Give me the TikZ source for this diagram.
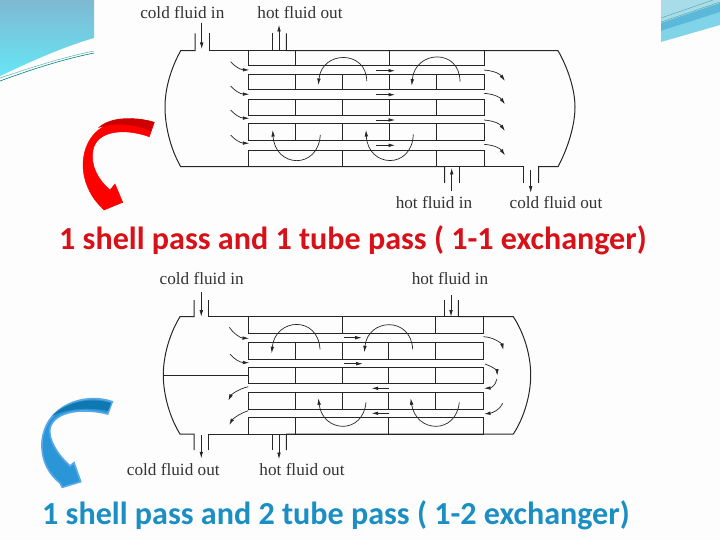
\documentclass[tikz,border=0pt]{standalone}
\usepackage{fontspec}
\setmainfont{Liberation Serif}
\newfontfamily\titlefont{Carlito}
\usetikzlibrary{arrows.meta}
\definecolor{titlered}{HTML}{D81018}
\definecolor{titleblue}{HTML}{1B8FC4}
\definecolor{pagewhite}{HTML}{FDFDFD}
\definecolor{bannertop}{HTML}{7FB8D2}
\definecolor{bannerbot}{HTML}{66E6F5}
\definecolor{cornerlight}{HTML}{A8DCE8}
\definecolor{cornermid}{HTML}{80D4E8}
\definecolor{cornerband}{HTML}{5CB8D8}
\definecolor{bluebody}{HTML}{2A96D8}
\definecolor{blueedge}{HTML}{5AA8E8}
\definecolor{bluedark}{HTML}{0F78B0}

\begin{document}
\begin{tikzpicture}[
                x=1pt, y=-1pt,
                wall/.style={draw=black!85, line width=1pt},
                arrow/.style={-{Latex[length=6.5pt,width=3.6pt]}, draw=black!85, line width=0.7pt},
                flowlabel/.style={font=\fontsize{17.2}{19}\selectfont, text=black!80, inner sep=0pt},
                titlelabel/.style={font=\titlefont\bfseries\fontsize{32.1}{34}\selectfont, inner sep=0pt, anchor=base west}
            ]
                \useasboundingbox (0,0) rectangle (720,540);
                \fill[pagewhite] (0,0) rectangle (720,540);

                % corners of the slide
                \shade[top color=bannertop, bottom color=bannerbot]
                    (0,0) -- (94,0) -- (94,38) .. controls (60,48) and (30,62) .. (0,76) -- cycle;
                \draw[teal, line width=0.6pt] (0,81) .. controls (30,70) and (60,60) .. (94,53);
                \draw[teal!60, line width=0.5pt] (0,78) .. controls (30,68) and (60,58) .. (94,51);
                \fill[cornerlight] (661,0) rectangle (720,23);
                \fill[cornermid] (661,42) -- (661,31) -- (720,12) -- (720,25) -- cycle;
                \fill[cornerband] (661,23) -- (720,3) -- (720,12) -- (661,31) -- cycle;
                \draw[teal!70, line width=0.4pt] (661,18) -- (713,0);
                \draw[teal!70, line width=0.4pt] (661,22) -- (720,2);

                % big arrows
                \path[fill=red, draw=red, line width=0.5pt] (154.3,122.3) .. controls (125,113) and (84,122) .. (83,165)
                    .. controls (83,180) and (90,195) .. (98.3,204) -- (104,210) -- (122.7,202.3) -- (115,184) -- (110,190)
                    .. controls (98,180) and (90,165) .. (93,150) .. controls (97,130) and (125,128) .. (149.3,136.7) -- cycle;
                \fill[red!80!black] (154.3,122.3) .. controls (130,115) and (108,118) .. (98,128)
                    .. controls (115,122) and (135,124) .. (151,131) -- cycle;
                \path[fill=bluebody, draw=blueedge, line width=1.6pt] (112.3,401.7) .. controls (85,392) and (45,405) .. (42,442)
                    .. controls (41,462) and (50,475) .. (60,483) -- (62.3,487.3) -- (80.7,481.7) -- (74,462.7) -- (70,466)
                    .. controls (58,455) and (48,440) .. (50,428) .. controls (55,410) and (85,408) .. (107.7,414) -- cycle;
                \fill[bluedark] (111,403) .. controls (90,397) and (65,402) .. (52,416)
                    .. controls (68,408) and (90,407) .. (108,411) -- cycle;

                % 1-1 exchanger
                \draw[wall] (195,33.3) |- (180.7,50.7) .. controls (170,70) and (165,90) .. (165,107)
                    .. controls (165,125) and (170,148) .. (180.7,166.7) -- (444.7,166.7) -- (444.7,183);
                \draw[wall] (209,33.3) |- (272.7,50.7) -- (272.7,33.3);
                \draw[wall] (286.3,33.3) |- (558,50.7) .. controls (568,68) and (575,90) .. (575,107)
                    .. controls (575,125) and (568,148) .. (558,166.7) -- (538.7,166.7) -- (538.7,183);
                \draw[wall] (459.7,183) |- (523.3,166.7) -- (523.3,183);
                \foreach \ya/\yb in {50.7/66, 74.3/90, 100/116, 124/140.7, 150.7/166.7}
                    \draw[wall] (248.7,\ya) rectangle (484,\yb);
                \foreach \xa/\ya/\yb in {295.7/50.7/66, 389.3/50.7/66,
                        295.7/74.3/90, 342.3/74.3/90, 389.3/74.3/90, 436/74.3/90,
                        295.7/100/116, 342.3/100/116, 389.3/100/116, 436/100/116,
                        295.7/124/140.7, 342.3/124/140.7, 389.3/124/140.7, 436/124/140.7,
                        342.3/150.7/166.7, 436/150.7/166.7}
                    \draw[wall] (\xa,\ya) -- (\xa,\yb);

                \node[flowlabel] (coldinA) at (182.3,12.3) {cold fluid in};
                \node[flowlabel] (hotoutA) at (300,12.3) {hot fluid out};
                \node[flowlabel] (hotinA) at (434,202.7) {hot fluid in};
                \node[flowlabel] (coldoutA) at (556,202.7) {cold fluid out};

                \draw[arrow] (201.7,22.7) -- (201.7,49);
                \draw[arrow] (279,50) -- (279,25);
                \draw[arrow] (451.7,190.7) -- (451.7,168);
                \draw[arrow] (530.7,170) -- (530.7,192.7);

                \foreach \yy in {61.7, 86, 110, 135}
                    \draw[arrow] (230.7,\yy) .. controls (234,\yy+4) and (240,\yy+8) .. (249.3,\yy+8.3);
                \foreach \yy in {70, 93.3, 120, 144.3}
                    \draw[arrow] (484,\yy) .. controls (495,\yy+1) and (500,\yy+4) .. (505,\yy+11);
                \foreach \yy in {70.7, 94.7, 120, 145.3}
                    \draw[arrow] (376,\yy) -- (395,\yy);

                \draw[arrow] (366.7,81) .. controls (366.7,50) and (322,50) .. (318.3,85);
                \draw[arrow] (460,81.7) .. controls (460,48) and (415,50) .. (411.7,85.7);
                \draw[arrow] (320.3,135) .. controls (318,170) and (275,168) .. (272.7,130);
                \draw[arrow] (413.3,134.3) .. controls (412,170) and (368,168) .. (366,130);

                \node[titlelabel, text=titlered] (titleA) at (59,249) {1 shell pass and 1 tube pass ( 1-1 exchanger)};

                % 1-2 exchanger
                \draw[wall] (194,300) |- (180,316.7) .. controls (170,333) and (163.3,355) .. (163.3,375)
                    .. controls (163.3,395) and (170,418) .. (180,434) -- (194,434) -- (194,450);
                \draw[wall] (208.3,300) |- (444.3,316.7) -- (444.3,300);
                \draw[wall] (458.3,300) |- (513.3,316.7) .. controls (524,333) and (530.7,355) .. (530.7,375)
                    .. controls (530.7,395) and (524,418) .. (513.3,434) -- (286.3,434) -- (286.3,450);
                \draw[wall] (208.3,450) |- (272.3,434) -- (272.3,450);
                \draw[wall] (163.3,375) -- (248.3,375);
                \foreach \ya/\yb in {316.7/333.3, 342.3/359, 367.3/383.7, 392.3/409, 417.3/434}
                    \draw[wall] (248.3,\ya) rectangle (483.3,\yb);
                \foreach \xa/\ya/\yb in {342/316.7/333.3, 435.3/316.7/333.3,
                        295/342.3/359, 342/342.3/359, 388.7/342.3/359, 435.3/342.3/359,
                        295/367.3/383.7, 342/367.3/383.7, 388.7/367.3/383.7, 435.3/367.3/383.7,
                        295/392.3/409, 342/392.3/409, 388.7/392.3/409, 435.3/392.3/409,
                        295/417.3/434, 388.7/417.3/434}
                    \draw[wall] (\xa,\ya) -- (\xa,\yb);

                \node[flowlabel] (coldinB) at (201.7,279) {cold fluid in};
                \node[flowlabel] (hotinB) at (450,279) {hot fluid in};
                \node[flowlabel] (coldoutB) at (173.3,469.3) {cold fluid out};
                \node[flowlabel] (hotoutB) at (302,469.3) {hot fluid out};

                \draw[arrow] (201.3,291.7) -- (201.3,316.7);
                \draw[arrow] (451,295) -- (451,316.7);
                \draw[arrow] (201.3,435) -- (201.3,458.3);
                \draw[arrow] (279,435) -- (279,459);

                \draw[arrow] (229.3,327.3) .. controls (233,333) and (240,338) .. (249,338.3);
                \draw[arrow] (230,354) .. controls (234,359) and (240,362.5) .. (249.3,362.7);
                \draw[arrow] (248.3,386.7) .. controls (238,389) and (231,395) .. (228.3,400.7);
                \draw[arrow] (248.3,410.7) .. controls (238,414) and (232,420) .. (229.3,425);
                \draw[arrow] (483.3,336.7) .. controls (494,337) and (502,344) .. (503.3,350);
                \draw[arrow] (485,364) .. controls (492,366) and (497,371) .. (497.3,375.7);
                \draw[arrow] (496.7,379.3) .. controls (496,385) and (491,388) .. (484,388.3);
                \draw[arrow] (502.7,403.3) .. controls (500,410) and (492,413) .. (484,414);
                \draw[arrow] (344,337.7) -- (361.7,337.7);
                \draw[arrow] (344,363.7) -- (362.7,363.7);
                \draw[arrow] (389.3,388.3) -- (371.7,388.3);
                \draw[arrow] (389.3,413.3) -- (371.7,413.3);

                \draw[arrow] (320,349.3) .. controls (318,315) and (275,318) .. (271.7,353.3);
                \draw[arrow] (412.7,349.3) .. controls (411,316) and (368,318) .. (364.3,352.3);
                \draw[arrow] (366,402.3) .. controls (363,435) and (323,433) .. (318.3,398.3);
                \draw[arrow] (459.3,402.3) .. controls (456,435) and (416,433) .. (410.7,398.3);

                \node[titlelabel, text=titleblue] (titleB) at (42,524) {1 shell pass and 2 tube pass ( 1-2 exchanger)};
            \end{tikzpicture}
\end{document}
